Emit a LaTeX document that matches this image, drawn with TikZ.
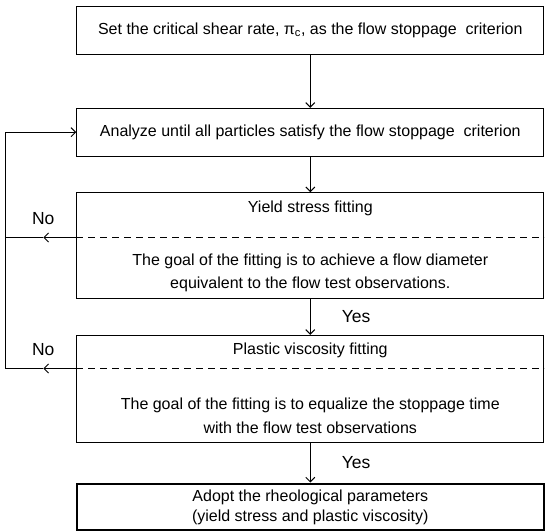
\documentclass[tikz,border=0pt]{standalone}
\usepackage{fontspec}
\setmainfont{Liberation Sans}
\usetikzlibrary{positioning,arrows.meta}

\begin{document}
\begin{tikzpicture}[x=1pt, y=-1pt, line width=1pt]
	\tikzstyle{stage} = [ draw, rectangle, minimum width=467pt, inner sep=0pt, font={\fontsize{16}{19}\selectfont}];
	\tikzstyle{final} = [ stage, line width=2.6pt, align=center, font={\fontsize{16}{20}\selectfont}];
	\tikzstyle{info} = [ align=center, inner sep=0pt, font={\fontsize{16}{23.5}\selectfont}];
	\tikzstyle{answer} = [ inner sep=0pt, font={\fontsize{17.5}{19}\selectfont}];
	\tikzstyle{point} = [ ->, >={Straight Barb[length=4.5pt, width=9pt]}];
	\tikzstyle{split} = [ line width=0.9pt, dash pattern=on 7pt off 5pt];

	\useasboundingbox (0,0) rectangle (550,531);

	\node[stage, minimum height=48pt] (crit) at (310.3,30) {Set the critical shear rate, π\textsubscript{c}, as the flow stoppage~ criterion};
	\node[stage, minimum height=47.7pt, below=53.3pt of crit] (anal) {Analyze until all particles satisfy the flow stoppage~ criterion};
	\node[stage, minimum height=106pt, below=35.7pt of anal] (yield) {};
	\node[stage, minimum height=106.7pt, below=35.6pt of yield] (visc) {};
	\node[final, minimum height=46.5pt, below=40pt of visc] (adopt) {Adopt the rheological parameters\\(yield stress and plastic viscosity)};

	\node[info] (yieldT) at ([yshift=-16.5pt]yield.north) {Yield stress fitting};
	\node[info] (yieldG) at ([yshift=-80.5pt]yield.north) {The goal of the fitting is to achieve a flow diameter\\equivalent to the flow test observations.};
	\node[info] (viscT) at ([yshift=-15.5pt]visc.north) {Plastic viscosity fitting};
	\node[info] (viscG) at ([yshift=-81pt]visc.north) {The goal of the fitting is to equalize the stoppage time\\with the flow test observations};

	\draw[point] (crit) to (anal);
	\draw[point] (anal) to (yield);
	\foreach \xi/\yi in {yield/visc,visc/adopt} {
		\draw[point] (\xi) to node[answer, right=31pt]{Yes} (\yi);
	}

	\foreach \xi/\yd in {yield/45.3pt,visc/33.7pt} {
		\coordinate (\xi-sp) at ([yshift=-\yd]\xi.north west);
		\coordinate (\xi-spE) at ([yshift=-\yd]\xi.north east);
		\coordinate (\xi-tip) at ([xshift=-33pt]\xi-sp);
		\coordinate (\xi-end) at ([xshift=-71pt]\xi-sp);
		\draw[split] (\xi-sp) -- (\xi-spE);
		\draw[point] (\xi-sp) -- (\xi-tip);
		\draw (\xi-tip) -- (\xi-end);
		\node[answer, above=12pt of \xi-tip] (\xi-no) {No};
	}

	\draw[point] (visc-end) |- (anal.west);
\end{tikzpicture}
\end{document}
